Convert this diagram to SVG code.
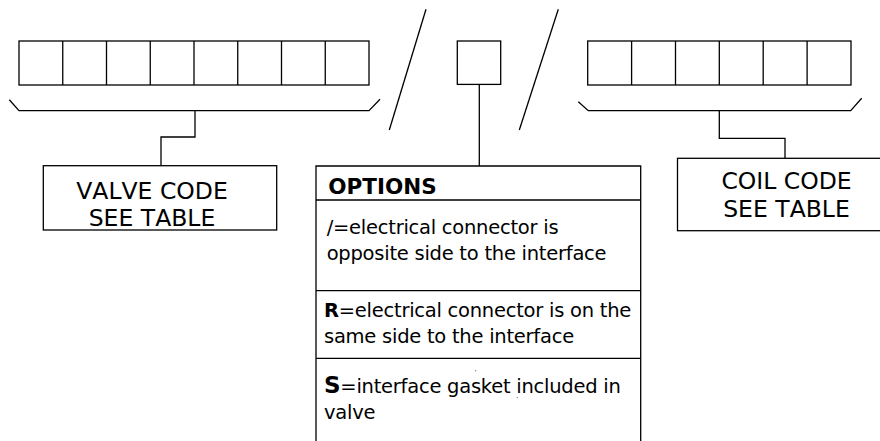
<svg xmlns="http://www.w3.org/2000/svg" width="880" height="441" viewBox="0 0 880 441">
<style>
.ln{fill:none;stroke:#000;stroke-width:1.3}
.bx{fill:#fff;stroke:#000;stroke-width:1.3}
.big{font-family:"DejaVu Sans",sans-serif;font-size:23.5px;fill:#000;text-anchor:middle;font-kerning:none}
.sm{font-family:"DejaVu Sans",sans-serif;font-size:19.5px;fill:#000;letter-spacing:-0.25px}
.hd{font-family:"DejaVu Sans",sans-serif;font-size:21.5px;font-weight:bold;fill:#000}
</style>
<rect width="880" height="441" fill="#fff"/>
<g id="valve-boxes">
<rect class="bx" x="19" y="41" width="350" height="44"/>
<path class="ln" d="M62.75 41V85M106.5 41V85M150.25 41V85M194 41V85M237.75 41V85M281.5 41V85M325.25 41V85"/>
</g>
<g id="option-box">
<rect class="bx" x="457.3" y="41" width="43.4" height="43.4"/>
</g>
<g id="coil-boxes">
<rect class="bx" x="587.7" y="41" width="263.3" height="44"/>
<path class="ln" d="M631.6 41V85M675.5 41V85M719.3 41V85M763.2 41V85M807.1 41V85"/>
</g>
<g id="slashes">
<path class="ln" d="M426 9.3L389.3 130"/>
<path class="ln" d="M558.3 9.3L519.3 130"/>
</g>
<g id="connectors">
<path class="ln" d="M9.3 99.7L19 110.7H369L380 99.3"/>
<path class="ln" d="M195 110.7V137H161V165.7"/>
<path class="ln" d="M479.3 84.4V166"/>
<path class="ln" d="M578.3 101.7L588.3 110.7H850.7L861.7 98.3"/>
<path class="ln" d="M719.3 110.7V138.3H785V158.3"/>
</g>
<g id="valve-code">
<rect class="bx" x="43.3" y="165.7" width="233.4" height="64.3"/>
<text class="big" x="152" y="199">VALVE CODE</text>
<text class="big" x="152" y="226">SEE TABLE</text>
</g>
<g id="coil-code">
<rect class="bx" x="677.5" y="158.3" width="220" height="72.4"/>
<text class="big" x="786.5" y="189.3">COIL CODE</text>
<text class="big" x="786.5" y="216.7">SEE TABLE</text>
</g>
<g id="options">
<path class="ln" d="M316 450V166H640.7V450"/>
<path class="ln" d="M316 200H640.7M316 290.7H640.7M316 358.3H640.7"/>
<text class="hd" x="328.3" y="194.3">OPTIONS</text>
<text class="sm" x="326.7" y="234">/=electrical connector is</text>
<text class="sm" x="326.7" y="260">opposite side to the interface</text>
<text class="sm" x="324" y="316.7"><tspan font-weight="bold">R</tspan>=electrical connector is on the</text>
<text class="sm" x="324" y="342.7">same side to the interface</text>
<text class="sm" x="324" y="393.3"><tspan font-weight="bold" font-size="23px">S</tspan>=interface gasket included in</text>
<text class="sm" x="324" y="419.3">valve</text>
<circle cx="475.7" cy="370.7" r="0.6" fill="#666"/>
<circle cx="517.3" cy="397.3" r="0.6" fill="#666"/>
</g>
</svg>
